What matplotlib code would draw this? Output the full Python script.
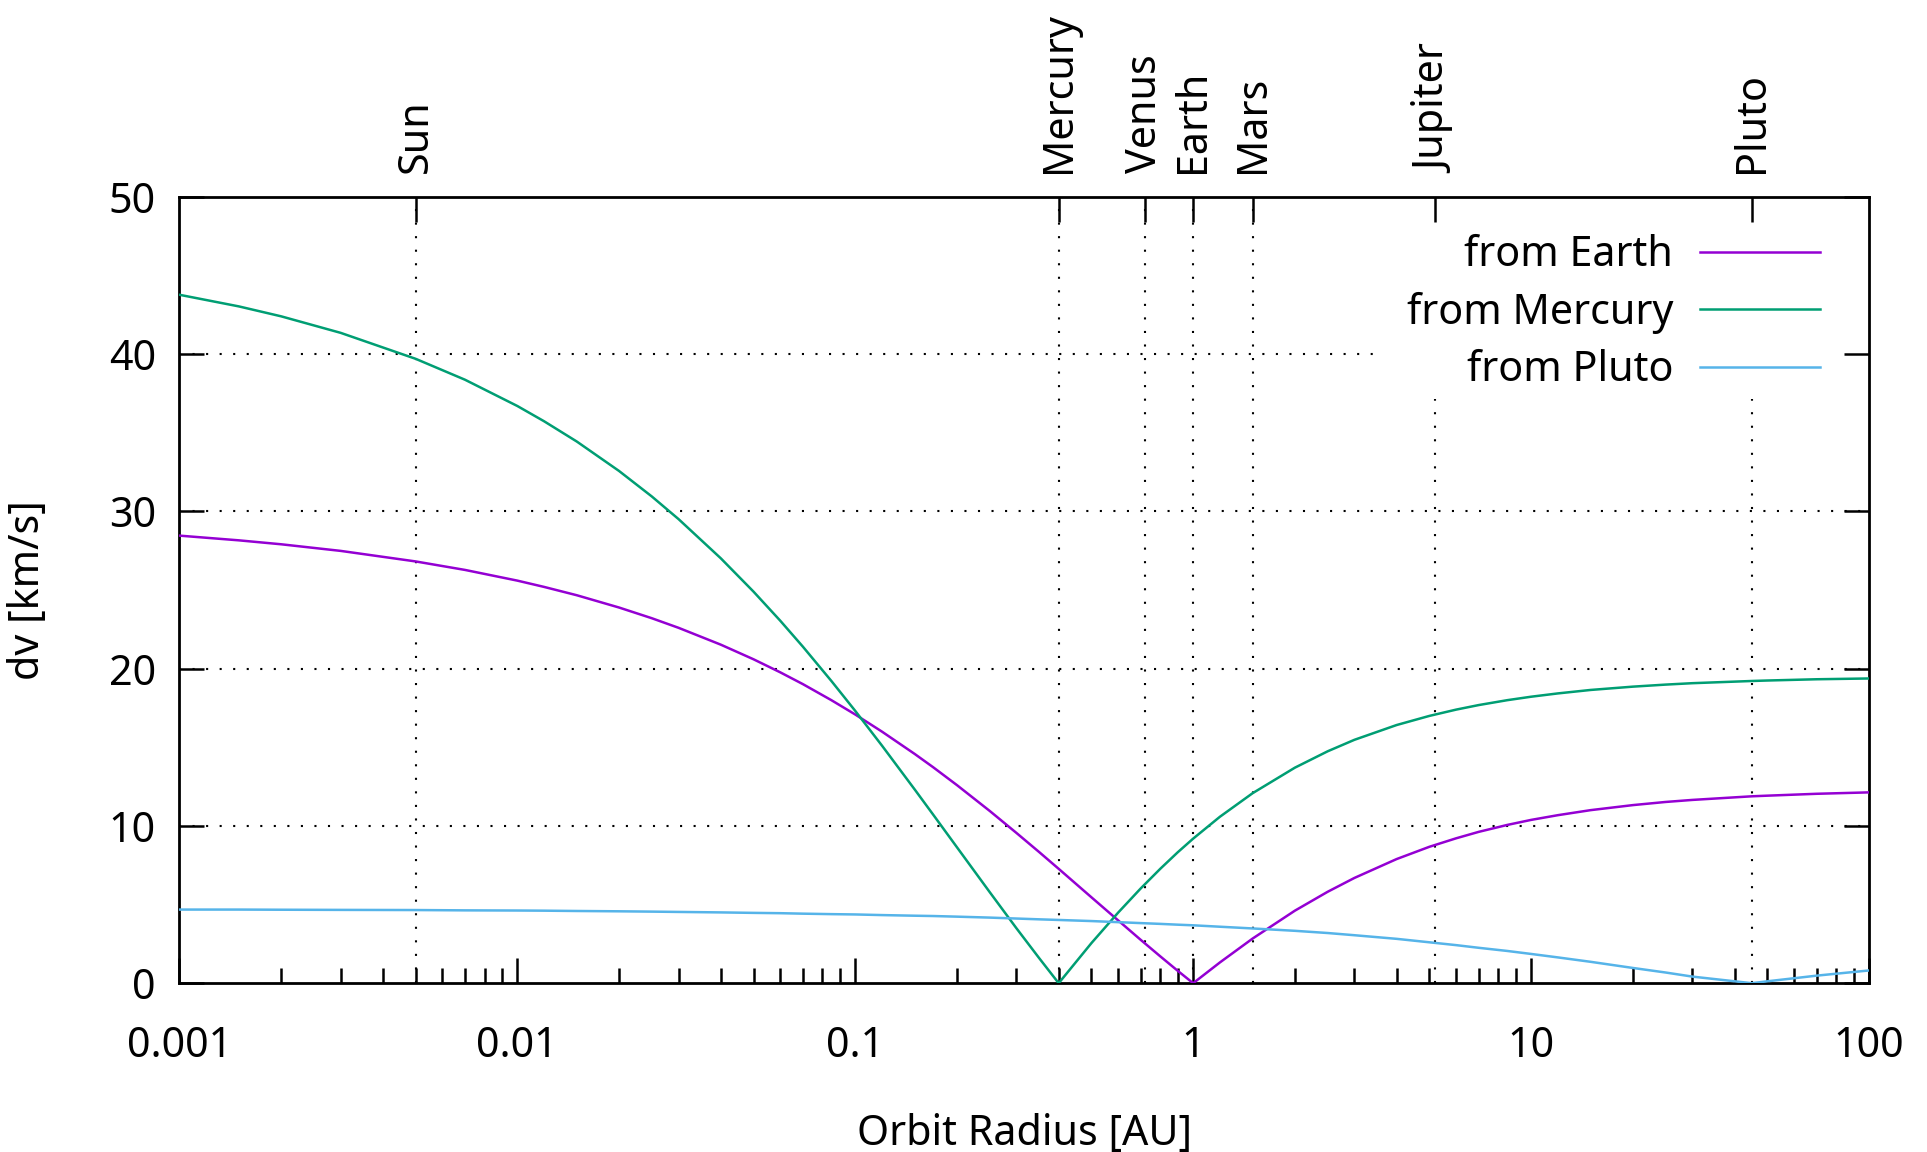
import matplotlib
matplotlib.use("Agg")
import matplotlib.pyplot as plt
from matplotlib.patches import Rectangle
from matplotlib.ticker import LogLocator, NullFormatter, NullLocator

plt.rcParams['font.family'] = ['Noto Sans', 'DejaVu Sans']
FS = 29.7

# ---------------- data ----------------
radius = [0.001, 0.0015, 0.002, 0.003, 0.005, 0.007,
          0.01, 0.012, 0.015, 0.02, 0.025, 0.03, 0.04, 0.05, 0.06, 0.07, 0.085,
          0.1, 0.12, 0.15, 0.17, 0.2, 0.25, 0.3, 0.35, 0.4, 0.5, 0.6, 0.7, 0.8, 0.9,
          1.0, 1.2, 1.5, 2, 2.5, 3, 4, 5, 6, 7, 8.5,
          10, 12, 15, 20, 25, 30, 45, 50, 70, 100]

dv_earth = [28.45, 28.15, 27.90, 27.48, 26.81, 26.27,
            25.59, 25.19, 24.66, 23.88, 23.20, 22.59, 21.52, 20.59, 19.76, 19.01, 17.99,
            17.08, 15.99, 14.57, 13.73, 12.59, 10.95, 9.55, 8.34, 7.27, 5.46, 3.99, 2.75, 1.70, 0.79,
            0.00, 1.32, 2.84, 4.61, 5.81, 6.69, 7.89, 8.67, 9.21, 9.62, 10.06,
            10.38, 10.68, 11.00, 11.32, 11.52, 11.65, 11.88, 11.92, 12.04, 12.13]

dv_mercury = [43.76, 43.02, 42.39, 41.34, 39.69, 38.36,
              36.69, 35.72, 34.43, 32.56, 30.94, 29.50, 27.01, 24.89, 23.04, 21.39, 19.21,
              17.31, 15.10, 12.31, 10.72, 8.64, 5.79, 3.49, 1.60, 0.00, 2.55, 4.49, 6.03, 7.28, 8.32,
              9.19, 10.58, 12.08, 13.70, 14.74, 15.47, 16.41, 16.99, 17.39, 17.68, 17.99,
              18.21, 18.42, 18.64, 18.85, 18.98, 19.07, 19.21, 19.24, 19.32, 19.37]

dv_pluto = [4.68, 4.68, 4.67, 4.66, 4.65, 4.63,
            4.62, 4.61, 4.59, 4.57, 4.55, 4.53, 4.50, 4.47, 4.45, 4.42, 4.39,
            4.37, 4.33, 4.29, 4.27, 4.23, 4.17, 4.11, 4.06, 4.02, 3.95, 3.88, 3.82, 3.77, 3.72,
            3.68, 3.59, 3.48, 3.33, 3.19, 3.05, 2.82, 2.60, 2.42, 2.25, 2.05,
            1.86, 1.64, 1.36, 0.97, 0.68, 0.42, 0.00, 0.12, 0.48, 0.81]

series_labels = ["from Earth", "from Mercury", "from Pluto"]
series_colors = ["#9400d3", "#009e73", "#56b4e9"]

planet_names = ["Sun", "Mercury", "Venus", "Earth", "Mars", "Jupiter", "Pluto"]
planet_radius = [0.005, 0.4, 0.72, 1.0, 1.5, 5.2, 45]

x_ticks = [0.001, 0.01, 0.1, 1, 10, 100]
x_tick_labels = ["0.001", "0.01", "0.1", "1", "10", "100"]
y_ticks = [0, 10, 20, 30, 40, 50]

# ---------------- figure ----------------
W, H = 1927, 1152
fig = plt.figure(figsize=(W / 100, H / 100), dpi=100)
L, R, T, B = 179.4, 1869.0, 196.6, 983.2
ax = fig.add_axes([L / W, 1 - B / H, (R - L) / W, (B - T) / H])
ax.set_xscale('log')
ax.set_xlim(0.001, 100)
ax.set_ylim(0, 50)

grid_style = dict(color='black', lw=1.5, linestyle=(0, (1, 5.5)), zorder=0.5)
for yv in y_ticks[1:-1]:
    ax.axhline(yv, **grid_style)
for xv in planet_radius:
    ax.axvline(xv, **grid_style)

# opaque key area (covers the grid behind the key)
ax.add_patch(Rectangle((0.712, 0.7427), 0.288, 0.2573, transform=ax.transAxes,
                       facecolor='white', edgecolor='none', zorder=1))

for ys, lab, col in zip([dv_earth, dv_mercury, dv_pluto], series_labels, series_colors):
    ax.plot(radius, ys, color=col, lw=1.8, label=lab, zorder=3)

ax.set_xticks(x_ticks)
ax.set_xticklabels(x_tick_labels)
ax.xaxis.set_minor_locator(LogLocator(base=10, subs=range(2, 10), numticks=100))
ax.xaxis.set_minor_formatter(NullFormatter())
ax.set_yticks(y_ticks)
ax.yaxis.set_minor_locator(NullLocator())

ax.tick_params(which='both', direction='in', top=True, right=True,
               labelsize=FS, width=1.8, color='black')
ax.tick_params(which='major', length=18)
ax.tick_params(which='minor', length=10.5)
ax.tick_params(axis='x', which='major', pad=30)
ax.tick_params(axis='y', which='major', pad=17)
for sp in ax.spines.values():
    sp.set_linewidth(2.0)

ax.set_xlabel("Orbit Radius [AU]", fontsize=FS, labelpad=33)
ax.set_ylabel("dv [km/s]", fontsize=FS, labelpad=43)

# top axis with planet positions
ax2 = ax.twiny()
ax2.set_xscale('log')
ax2.set_xlim(ax.get_xlim())
ax2.set_xticks(planet_radius)
ax2.set_xticklabels(planet_names, rotation=90)
ax2.xaxis.set_minor_locator(NullLocator())
ax2.tick_params(axis='x', direction='in', length=18, width=1.8, labelsize=FS, pad=17)
for sp in ax2.spines.values():
    sp.set_visible(False)

leg = ax.legend(loc='upper right', bbox_to_anchor=(0.971, 0.9525), frameon=False,
                markerfirst=False, fontsize=FS, handlelength=2.92, handletextpad=0.64,
                labelspacing=0.376, borderpad=0, borderaxespad=0)
leg.set_zorder(5)

fig.savefig('out.png', dpi=100)
